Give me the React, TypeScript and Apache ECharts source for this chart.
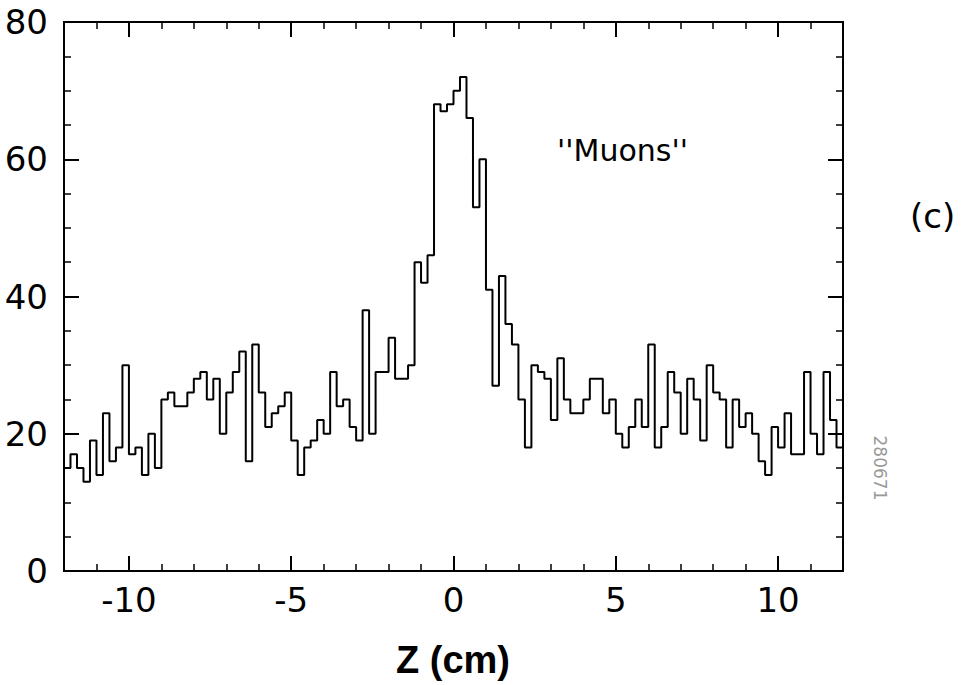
import React, { useEffect, useRef } from "react";
import * as echarts from "echarts";

// Histogram of Z (cm), bins of 0.2 cm from -12 to 12
const xMin = -12;
const xMax = 12;
const binWidth = 0.2;
const binCounts = [
  15, 17, 15, 13, 19, 14, 23, 16, 18, 30,
  17, 18, 14, 20, 15, 25, 26, 24, 24, 26,
  28, 29, 25, 28, 20, 26, 29, 32, 16, 33,
  26, 21, 23, 24, 26, 19, 14, 18, 19, 22,
  20, 29, 24, 25, 21, 19, 38, 20, 29, 29,
  34, 28, 28, 30, 45, 42, 46, 68, 67, 68,
  70, 72, 66, 53, 60, 41, 27, 43, 36, 33,
  25, 18, 30, 29, 28, 22, 31, 25, 23, 23,
  25, 28, 28, 23, 25, 20, 18, 21, 25, 21,
  33, 18, 21, 29, 26, 20, 28, 25, 19, 30,
  26, 25, 18, 25, 21, 23, 20, 16, 14, 21,
  18, 23, 17, 17, 29, 20, 17, 29, 22, 18,
];
const xMajorTicks = [-10, -5, 0, 5, 10];
const xMinorTicks = [-12, -11, -9, -8, -7, -6, -4, -3, -2, -1, 1, 2, 3, 4, 6, 7, 8, 9, 11, 12];
const yMin = 0;
const yMax = 80;
const yInterval = 20;

const FONT = "DejaVu Sans";

export default function App() {
  const ref = useRef<HTMLDivElement>(null);
  useEffect(() => {
    if (!ref.current) return;
    const chart = echarts.init(ref.current, undefined, { renderer: "svg" });
    const data: number[][] = binCounts.map((v, i) => [xMin + i * binWidth, v]);
    data.push([xMax, binCounts[binCounts.length - 1]]);

    const axisLine = { show: true, onZero: false, lineStyle: { color: "#000", width: 2 } };
    const baseX = {
      type: "value" as const,
      min: xMin,
      max: xMax,
      splitLine: { show: false },
      axisLine,
    };
    const baseY = {
      type: "value" as const,
      min: yMin,
      max: yMax,
      interval: yInterval,
      splitLine: { show: false },
      axisLine,
      axisTick: { show: true, inside: true, length: 15, lineStyle: { color: "#000", width: 2 } },
      minorTick: { show: true, splitNumber: 4, length: 7, lineStyle: { color: "#000", width: 1.5 } },
    };

    chart.setOption({
      animation: false,
      backgroundColor: "#fff",
      grid: { left: 64, right: 121, top: 22, bottom: 114 },
      xAxis: [
        {
          ...baseX,
          position: "bottom",
          axisTick: { show: true, inside: true, length: 15, customValues: xMajorTicks, lineStyle: { color: "#000", width: 2 } },
          axisLabel: { show: true, customValues: xMajorTicks, margin: 12, fontSize: 34, color: "#000", fontFamily: FONT },
        },
        {
          ...baseX,
          position: "bottom",
          axisTick: { show: true, inside: true, length: 7, customValues: xMinorTicks, lineStyle: { color: "#000", width: 1.5 } },
          axisLabel: { show: false },
        },
        {
          ...baseX,
          position: "top",
          axisTick: { show: true, inside: true, length: 15, customValues: xMajorTicks, lineStyle: { color: "#000", width: 2 } },
          axisLabel: { show: false },
        },
        {
          ...baseX,
          position: "top",
          axisTick: { show: true, inside: true, length: 7, customValues: xMinorTicks, lineStyle: { color: "#000", width: 1.5 } },
          axisLabel: { show: false },
        },
      ],
      yAxis: [
        {
          ...baseY,
          position: "left",
          axisLabel: { show: true, margin: 16, fontSize: 34, color: "#000", fontFamily: FONT },
        },
        {
          ...baseY,
          position: "right",
          axisLabel: { show: false },
        },
      ],
      series: [
        {
          type: "line",
          xAxisIndex: 0,
          yAxisIndex: 0,
          step: "end",
          showSymbol: false,
          symbol: "none",
          data,
          lineStyle: { color: "#000", width: 2 },
          silent: true,
        },
      ],
      graphic: [
        {
          type: "text",
          x: 557,
          y: 150,
          style: { text: "''Muons''", fontSize: 30, fontFamily: FONT, fill: "#000", textVerticalAlign: "middle" },
        },
        {
          type: "text",
          x: 910,
          y: 216,
          style: { text: "(c)", fontSize: 34, fontFamily: FONT, fill: "#000", textVerticalAlign: "middle" },
        },
        {
          type: "text",
          x: 453,
          y: 660,
          style: { text: "Z (cm)", fontSize: 38, fontWeight: "bold", fontFamily: "Liberation Sans", fill: "#000", textAlign: "center", textVerticalAlign: "middle" },
        },
        {
          type: "text",
          x: 880,
          y: 468,
          rotation: -Math.PI / 2,
          style: { text: "280671", fontSize: 17, fontFamily: FONT, fill: "#999", textAlign: "center", textVerticalAlign: "middle" },
        },
      ],
    });
    return () => chart.dispose();
  }, []);
  return <div ref={ref} style={{ position: "fixed", left: 0, top: 0, width: 964, height: 685 }} />;
}
